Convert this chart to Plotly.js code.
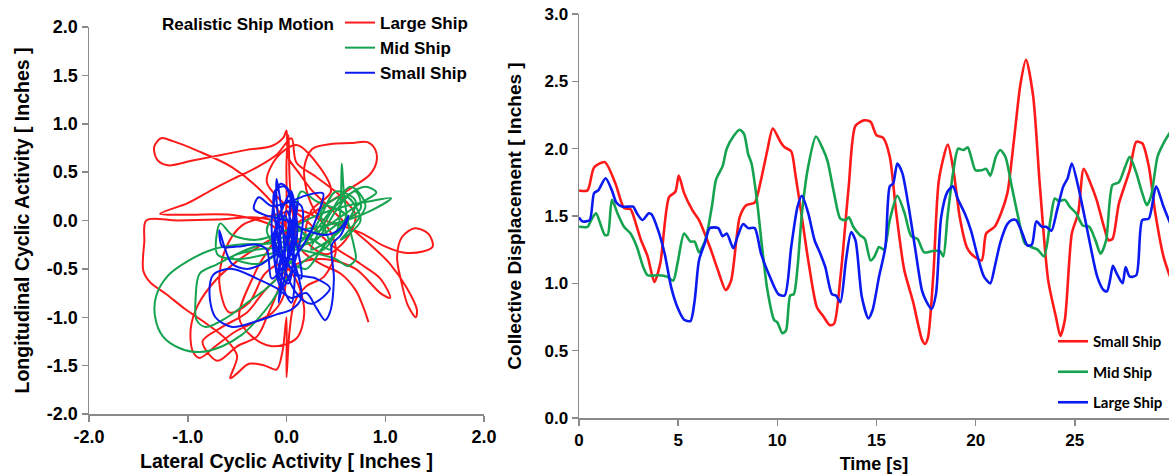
<!DOCTYPE html>
<html>
<head>
<meta charset="utf-8">
<script src="https://cdn.plot.ly/plotly-3.0.1.min.js"></script>
<style>html,body{margin:0;padding:0;background:#fff;}#chart{width:1169px;height:474px;}</style>
</head>
<body>
<div id="chart"></div>
<script>
// ---------- Left panel: cyclic activity trajectories (inches) ----------
const largeShipLat = [0.05,-0.05,-0.25,-0.55,-0.90,-1.15,-1.27,-1.34,-1.31,-1.20,-0.95,-0.65,-0.40,-0.15,-0.03,0.00,0.02,0.12,0.25,0.42,0.62,0.85,1.05,1.22,1.32,1.31,1.23,1.16,1.12,1.17,1.30,1.44,1.48,1.38,1.18,0.98,0.78,0.55,0.35,0.22,0.18,0.26,0.45,0.65,0.82,0.90,0.91,0.84,0.66,0.45,0.22,0.00,-0.25,-0.50,-0.72,-0.90,-0.97,-0.95,-0.88,-0.72,-0.52,-0.32,-0.14,-0.03,0.00,0.02,-0.02,-0.30,-0.70,-1.10,-1.42,-1.44,-1.45,-1.38,-1.22,-1.02,-0.82,-0.62,-0.50,-0.57,-0.50,-0.38,-0.22,-0.10,-0.04,0.00,0.00,0.03,0.08,0.20,0.38,0.50,0.40,0.15,-0.15,-0.45,-0.62,-0.68,-0.58,-0.38,-0.22,-0.05,0.10,0.18,0.10,-0.15,-0.35,-0.48,-0.30,-0.10,-0.50,-1.00,-1.28,-1.00,-0.75,-0.54,-0.30,-0.10,0.05,0.10,0.30,0.55,0.70,0.60,0.40,0.20,0.25,0.45,0.30,0.10,-0.10,-0.20,-0.05,0.20,0.45,0.75,0.95,1.05,0.95,0.70,0.40,0.10,-0.20,-0.40,-0.65,-0.85,-0.70,-0.50,-0.30,-0.20,-0.05,0.00,0.00,0.02,0.04,0.15,0.35,0.55,0.70,0.78,0.83];
const largeShipLon = [-0.30,0.05,0.30,0.55,0.72,0.82,0.85,0.76,0.63,0.57,0.62,0.68,0.73,0.77,0.86,0.93,0.65,0.50,0.32,0.15,-0.05,-0.25,-0.45,-0.70,-0.92,-1.00,-0.88,-0.62,-0.38,-0.17,-0.08,-0.14,-0.27,-0.32,-0.33,-0.26,-0.14,-0.05,0.02,0.25,0.55,0.74,0.79,0.80,0.81,0.73,0.60,0.47,0.34,0.20,0.05,-0.10,-0.25,-0.42,-0.62,-0.88,-1.12,-1.35,-1.42,-1.30,-1.15,-1.05,-0.95,-0.78,-0.52,-0.28,-0.05,0.03,0.01,0.00,0.00,-0.22,-0.52,-0.64,-0.76,-0.92,-1.06,-1.22,-1.40,-1.63,-1.58,-1.48,-1.50,-1.54,-1.35,-1.00,-1.62,-1.15,-0.85,-0.68,-0.58,-0.30,-0.05,0.10,0.05,-0.05,-0.30,-0.65,-0.95,-0.85,-0.55,-0.45,-0.62,-0.95,-1.22,-1.30,-1.20,-1.00,-0.50,-0.10,0.05,0.06,0.07,0.18,0.32,0.43,0.55,0.68,0.85,0.60,0.45,0.25,0.05,-0.20,-0.35,-0.20,0.10,0.30,0.60,0.78,0.65,0.40,0.20,0.00,-0.25,-0.45,-0.60,-0.80,-0.75,-0.50,-0.40,-0.45,-0.70,-0.95,-1.10,-1.25,-1.45,-1.30,-1.20,-1.00,-0.60,0.20,0.60,0.88,0.30,-0.30,-0.45,-0.55,-0.72,-0.90,-1.05];

const midShipLat = [0.30,0.50,0.65,0.80,0.91,0.75,0.55,0.35,0.10,-0.20,-0.50,-0.75,-1.00,-1.20,-1.32,-1.33,-1.25,-1.08,-0.88,-0.65,-0.45,-0.30,-0.15,0.00,0.20,0.40,0.52,0.55,0.56,0.58,0.62,0.68,0.70,0.62,0.50,0.30,0.10,-0.20,-0.50,-0.70,-0.67,-0.55,-0.30,0.00,0.30,0.60,0.85,1.06,0.85,0.60,0.40,0.15,-0.10,-0.40,-0.70,-0.88,-0.92,-0.91,-0.82,-0.60,-0.40,-0.20,-0.05,0.10,0.30,0.45,0.70,0.75,0.50,0.25,0.10,0.15,0.30,0.60,0.35,0.20,0.00,-0.20,-0.10,0.20,0.45,0.35,0.60,0.75,0.55,0.80,0.65,0.40,0.25,0.55,0.70,0.50,0.30,0.10,-0.30,-0.55,-0.30,0.00,0.30];
const midShipLon = [-0.20,0.10,0.28,0.35,0.29,0.18,0.04,-0.10,-0.20,-0.24,-0.25,-0.30,-0.42,-0.57,-0.78,-1.00,-1.20,-1.32,-1.36,-1.30,-1.18,-1.03,-0.84,-0.60,-0.40,-0.28,-0.08,0.20,0.59,0.30,0.00,-0.25,-0.40,-0.47,-0.40,-0.34,-0.30,-0.35,-0.40,-0.35,-0.03,-0.15,-0.20,-0.10,0.05,0.15,0.20,0.23,0.10,0.00,-0.05,-0.10,-0.20,-0.30,-0.45,-0.55,-0.80,-1.03,-1.10,-1.00,-0.85,-0.70,-0.55,-0.35,-0.10,0.10,0.30,0.12,-0.05,-0.20,0.00,0.30,0.20,0.05,-0.30,-0.50,-0.40,-0.10,0.05,-0.15,-0.30,0.10,0.25,0.00,-0.20,0.15,0.35,0.00,-0.30,-0.10,0.20,0.30,-0.05,-0.25,-0.30,-0.38,-0.45,-0.30,-0.20];

const smallShipLat = [-0.05,-0.10,-0.10,-0.05,0.00,0.05,0.10,-0.15,-0.20,-0.30,-0.50,-0.65,-0.68,-0.62,-0.55,-0.40,-0.25,-0.10,0.05,0.20,0.33,0.37,0.20,0.05,-0.15,-0.28,-0.33,-0.20,0.00,0.20,0.40,0.55,0.63,0.55,0.46,0.48,0.44,0.39,0.30,0.20,0.05,-0.10,-0.30,-0.55,-0.74,-0.78,-0.72,-0.55,-0.30,-0.10,0.05,0.15,0.10,0.00,-0.10,-0.05,0.10,0.25,0.44,0.30,0.10,-0.05,-0.12,-0.02,0.08,-0.08,0.02,0.06,-0.06,-0.15,-0.05,0.12,0.15,0.00,-0.12,0.05,0.08,-0.02,-0.14,0.00,0.10,-0.10,0.12,-0.08,0.05,-0.12,0.15,0.00,-0.10];
const smallShipLon = [-0.30,0.20,0.43,0.10,-0.50,0.30,-0.20,-0.60,-0.30,-0.25,-0.27,-0.27,-0.10,-0.30,-0.45,-0.50,-0.45,-0.35,-0.40,-0.20,0.10,0.28,0.26,0.20,0.15,0.24,0.12,0.05,0.00,-0.10,-0.15,-0.08,0.05,-0.15,-0.25,-0.60,-0.95,-1.03,-0.90,-0.75,-0.80,-0.70,-0.60,-0.50,-0.56,-0.76,-1.00,-1.10,-1.04,-0.97,-0.92,-0.80,-0.50,-0.20,0.00,-0.40,-0.75,-0.86,-0.70,-0.60,-0.55,-0.30,0.30,0.35,0.00,-0.50,-0.65,0.25,0.38,0.00,-0.70,-0.30,0.15,0.20,-0.40,-0.85,-0.40,0.05,-0.20,-0.45,0.10,-0.60,0.20,-0.85,0.30,-0.20,-0.60,0.10,-0.45];

// ---------- Right panel: collective displacement vs time ----------
const tSmall = [0,0.43,0.76,1.3,1.84,2.27,2.6,2.7,3.13,3.46,3.8,4.1,4.54,4.86,5.03,5.3,5.73,6.05,6.6,7.0,7.4,7.67,8.1,8.43,8.86,9.18,9.5,9.77,10.16,10.37,10.7,10.9,11.24,11.56,12.0,12.3,12.64,12.86,13.2,13.6,13.94,14.37,14.7,15.0,15.34,15.67,16.0,16.4,16.85,17.3,17.45,17.6,17.87,18.15,18.6,18.9,19.2,19.55,19.77,20.3,20.53,20.96,21.28,21.6,21.93,22.26,22.54,22.9,23.23,23.66,24.05,24.27,24.5,24.85,25.17,25.45,25.8,26.1,26.47,26.7,26.9,27.22,27.77,28.1,28.4,28.73,29.06,29.47,29.8];
const smallShipColl = [1.69,1.69,1.86,1.9,1.74,1.56,1.55,1.52,1.32,1.2,1.01,1.15,1.64,1.68,1.8,1.67,1.54,1.47,1.27,1.1,0.95,1.02,1.49,1.58,1.6,1.77,1.99,2.15,2.05,2.01,1.98,1.82,1.49,1.17,0.82,0.76,0.69,0.7,1.07,1.72,2.17,2.21,2.2,2.1,2.08,1.94,1.52,1.1,0.86,0.58,0.55,0.6,1.07,1.77,2.03,1.82,1.49,1.27,1.22,1.17,1.37,1.42,1.52,1.67,2.06,2.48,2.66,2.39,1.74,1.02,0.75,0.61,0.73,1.37,1.52,1.85,1.74,1.62,1.42,1.32,1.33,1.59,1.84,2.05,2.04,1.87,1.52,1.2,1.05];

const tMid = [0,0.43,0.65,0.86,1.08,1.3,1.45,1.66,1.94,2.27,2.6,2.92,3.24,3.46,4.0,4.43,4.75,4.97,5.3,5.62,5.83,6.05,6.37,6.7,6.91,7.24,7.45,7.78,8.1,8.32,8.53,8.7,8.97,9.23,9.5,9.83,10.0,10.26,10.44,10.65,10.83,11.02,11.24,11.56,11.95,12.32,12.53,12.86,13.18,13.46,13.61,13.83,14.15,14.41,14.7,14.9,15.13,15.38,15.67,16.05,16.42,16.75,17.07,17.4,17.83,18.2,18.37,18.58,18.86,19.12,19.38,19.6,19.77,19.99,20.3,20.53,20.74,21.02,21.24,21.5,21.82,22.15,22.47,22.8,23.13,23.45,23.77,23.99,24.2,24.5,24.74,25.07,25.4,25.73,26.04,26.3,26.58,26.9,27.22,27.55,27.77,28.1,28.4,28.63,28.85,29.17,29.47,29.8];
const midShipColl = [1.42,1.42,1.48,1.52,1.44,1.36,1.36,1.62,1.52,1.42,1.37,1.27,1.12,1.06,1.06,1.05,1.02,1.15,1.37,1.31,1.31,1.23,1.32,1.57,1.77,1.87,2.0,2.09,2.14,2.11,1.96,1.89,1.62,1.27,0.95,0.73,0.71,0.63,0.65,0.91,0.92,1.12,1.52,1.87,2.09,1.99,1.91,1.67,1.48,1.47,1.49,1.42,1.36,1.33,1.17,1.2,1.27,1.25,1.47,1.65,1.52,1.35,1.33,1.23,1.24,1.24,1.2,1.49,1.82,2.0,1.99,2.01,1.94,1.84,1.84,1.85,1.8,1.94,1.99,1.94,1.72,1.49,1.3,1.27,1.25,1.2,1.47,1.63,1.61,1.62,1.57,1.52,1.43,1.42,1.32,1.22,1.32,1.73,1.75,1.87,1.94,1.82,1.67,1.58,1.65,1.94,2.04,2.12];

const tLarge = [0,0.17,0.54,0.76,0.97,1.34,1.66,1.88,2.16,2.6,2.74,2.92,3.2,3.52,3.67,4.0,4.32,4.65,4.97,5.3,5.62,5.83,6.05,6.37,6.59,7.02,7.24,7.45,7.78,8.0,8.28,8.53,8.86,9.18,9.62,10.05,10.37,10.7,11.02,11.24,11.56,11.88,12.17,12.42,12.75,12.96,13.18,13.46,13.72,13.94,14.26,14.59,14.8,15.13,15.45,15.67,15.84,16.05,16.3,16.62,16.96,17.29,17.5,17.78,18.0,18.26,18.58,18.86,19.12,19.45,19.77,20.1,20.42,20.74,20.96,21.24,21.6,21.82,22.04,22.36,22.62,22.84,23.06,23.34,23.56,23.82,24.1,24.42,24.64,24.85,25.17,25.5,25.8,26.13,26.45,26.62,26.77,26.92,27.09,27.41,27.56,27.77,28.1,28.4,28.73,29.1,29.47,29.8];
const largeShipColl = [1.49,1.46,1.47,1.67,1.69,1.78,1.69,1.6,1.57,1.57,1.57,1.52,1.47,1.52,1.51,1.39,1.22,0.97,0.82,0.73,0.72,0.87,1.17,1.31,1.41,1.41,1.35,1.37,1.26,1.35,1.44,1.41,1.41,1.22,1.05,0.92,0.91,1.27,1.57,1.65,1.52,1.32,1.22,1.12,0.92,0.91,0.86,1.17,1.38,1.32,0.9,0.74,0.8,1.05,1.27,1.72,1.74,1.89,1.82,1.57,1.25,0.95,0.87,0.81,0.92,1.49,1.68,1.72,1.62,1.52,1.39,1.2,1.05,1.0,1.12,1.3,1.44,1.47,1.47,1.37,1.28,1.29,1.46,1.42,1.42,1.39,1.54,1.72,1.78,1.89,1.72,1.49,1.27,1.05,0.95,0.94,1.02,1.13,1.08,1.0,1.12,1.05,1.06,1.47,1.48,1.72,1.57,1.45];

// ---------- tick values and labels ----------
const leftXTickVals = [-2.0,-1.0,0.0,1.0,2.0];
const leftXTickText = ['-2.0','-1.0','0.0','1.0','2.0'];
const leftYTickVals = [-2.0,-1.5,-1.0,-0.5,0.0,0.5,1.0,1.5,2.0];
const leftYTickText = ['-2.0','-1.5','-1.0','-0.5','0.0','0.5','1.0','1.5','2.0'];
const rightXTickVals = [0,5,10,15,20,25];
const rightYTickVals = [0.0,0.5,1.0,1.5,2.0,2.5,3.0];

// ---------- styling ----------
const RED = '#FF1A1A', GREEN = '#16A34F', BLUE = '#0A1AF0';
const W = 1169, H = 474;
const FONT = 'Liberation Sans, Arial, Helvetica, sans-serif';
const AX = '#8a8a8a';
function px(x){return x / W;}
function py(y){return 1 - y / H;}

const traces = [
  {x: largeShipLat, y: largeShipLon, xaxis:'x', yaxis:'y', type:'scatter', mode:'lines', name:'Large Ship',
   line:{color:RED, width:2, shape:'spline', smoothing:0.9}, legend:'legend', legendgroup:'l1'},
  {x: midShipLat, y: midShipLon, xaxis:'x', yaxis:'y', type:'scatter', mode:'lines', name:'Mid Ship',
   line:{color:GREEN, width:2, shape:'spline', smoothing:0.9}, legend:'legend', legendgroup:'l2'},
  {x: smallShipLat, y: smallShipLon, xaxis:'x', yaxis:'y', type:'scatter', mode:'lines', name:'Small Ship',
   line:{color:BLUE, width:2, shape:'spline', smoothing:0.9}, legend:'legend', legendgroup:'l3'},
  {x: tSmall, y: smallShipColl, xaxis:'x2', yaxis:'y2', type:'scatter', mode:'lines', name:'Small Ship',
   line:{color:RED, width:2.6, shape:'spline', smoothing:0.7}, legend:'legend2', legendgroup:'r1'},
  {x: tMid, y: midShipColl, xaxis:'x2', yaxis:'y2', type:'scatter', mode:'lines', name:'Mid Ship',
   line:{color:GREEN, width:2.6, shape:'spline', smoothing:0.7}, legend:'legend2', legendgroup:'r2'},
  {x: tLarge, y: largeShipColl, xaxis:'x2', yaxis:'y2', type:'scatter', mode:'lines', name:'Large Ship',
   line:{color:BLUE, width:2.6, shape:'spline', smoothing:0.7}, legend:'legend2', legendgroup:'r3'}
];

const axisCommon = {
  showline:true, linecolor:AX, linewidth:1.5, ticks:'outside', ticklen:6, tickwidth:1.5, tickcolor:AX,
  showgrid:false, zeroline:false, automargin:false, fixedrange:true
};

const layout = {
  width:W, height:H, margin:{l:0,r:0,t:0,b:0}, paper_bgcolor:'#fff', plot_bgcolor:'#fff',
  font:{family:FONT, color:'#000'},
  xaxis: Object.assign({}, axisCommon, {
    domain:[px(89), px(484)], range:[-2,2], tickmode:'array', tickvals:leftXTickVals, ticktext:leftXTickText, anchor:'y',
    tickfont:{family:FONT, size:18, weight:'bold', color:'#000'},
    title:{text:'Lateral Cyclic Activity [ Inches ]', font:{family:FONT, size:19.5, weight:'bold', color:'#000'}, standoff:8}
  }),
  yaxis: Object.assign({}, axisCommon, {
    domain:[py(414), py(27)], range:[-2,2], tickmode:'array', tickvals:leftYTickVals, ticktext:leftYTickText, anchor:'x',
    tickfont:{family:FONT, size:18, weight:'bold', color:'#000'},
    title:{text:'Longitudinal Cyclic Activity [ Inches ]', font:{family:FONT, size:19.5, weight:'bold', color:'#000'}, standoff:12}
  }),
  xaxis2: Object.assign({}, axisCommon, {
    domain:[px(579), 1], range:[0,29.75], tickvals:rightXTickVals, anchor:'y2',
    tickfont:{family:FONT, size:17, weight:'bold', color:'#000'},
    title:{text:'Time [s]', font:{family:FONT, size:18, weight:'bold', color:'#000'}, standoff:10}
  }),
  yaxis2: Object.assign({}, axisCommon, {
    domain:[py(418), py(14)], range:[0,3], tickvals:rightYTickVals, tickformat:'.1f', anchor:'x2',
    tickfont:{family:FONT, size:17, weight:'bold', color:'#000'},
    title:{text:'Collective Displacement [ Inches ]', font:{family:FONT, size:19, weight:'bold', color:'#000'}, standoff:18}
  }),
  showlegend:true,
  legend:{x:px(340), xanchor:'left', y:py(5), yanchor:'top', bgcolor:'rgba(0,0,0,0)',
    font:{family:FONT, size:17, weight:'bold', color:'#000'}, tracegroupgap:0, traceorder:'normal'},
  legend2:{x:px(1053), xanchor:'left', y:py(325), yanchor:'top', bgcolor:'rgba(0,0,0,0)',
    font:{family:'Lato, Open Sans, sans-serif', size:15, weight:'bold', color:'#000'}, tracegroupgap:8, traceorder:'grouped'},
  annotations:[
    {text:'Realistic Ship Motion', xref:'paper', yref:'paper', x:px(248), y:py(24), xanchor:'center', yanchor:'middle',
     showarrow:false, font:{family:FONT, size:17, weight:'bold', color:'#000'}}
  ]
};

Plotly.newPlot('chart', traces, layout, {staticPlot:true, displayModeBar:false});
</script>
</body>
</html>
